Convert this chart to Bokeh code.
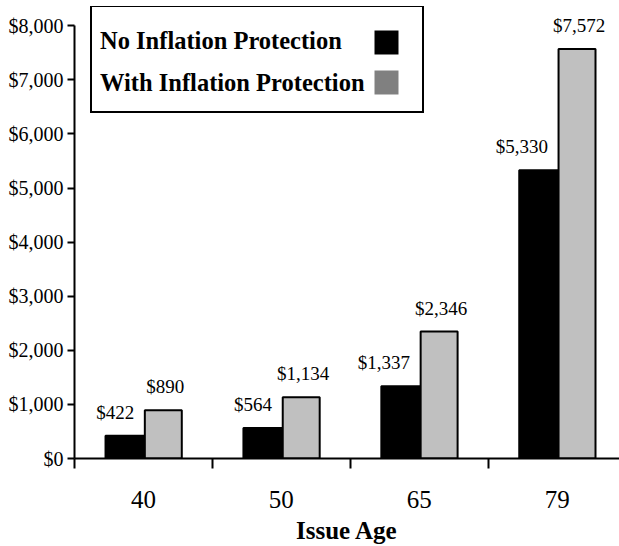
from bokeh.plotting import figure
from bokeh.models import (Range1d, FixedTicker, NumeralTickFormatter, LabelSet,
                          ColumnDataSource, Legend, LegendItem)
from bokeh.core.properties import value
from bokeh.embed import file_html
from bokeh.resources import INLINE

# ---- data ----
categories = ["40", "50", "65", "79"]
no_protection = [422, 564, 1337, 5330]
with_protection = [890, 1134, 2346, 7572]
series_names = ["No Inflation Protection", "With Inflation Protection"]
y_ticks = [0, 1000, 2000, 3000, 4000, 5000, 6000, 7000, 8000]

FONT = "Liberation Serif"
idx = list(range(len(categories)))
black_x = [i + 0.3675 for i in idx]
grey_x = [i + 0.644 for i in idx]

p = figure(width=619, height=546, output_backend="svg", toolbar_location=None,
           x_range=Range1d(0, 3.952), y_range=Range1d(0, 8356),
           min_border_left=74, min_border_right=0, min_border_top=6,
           min_border_bottom=88)
p.xgrid.visible = False
p.ygrid.visible = False
p.outline_line_color = None
p.background_fill_color = "white"
p.border_fill_color = "white"

# bars
p.vbar(x=black_x, top=no_protection, width=0.285, fill_color="black",
       line_color="black", line_width=2)
p.vbar(x=grey_x, top=with_protection, width=0.268, fill_color="#C0C0C0",
       line_color="black", line_width=2)

# value labels
src_b = ColumnDataSource(dict(x=black_x, y=no_protection,
                              t=[f"${v:,}" for v in no_protection]))
src_g = ColumnDataSource(dict(x=grey_x, y=with_protection,
                              t=[f"${v:,}" for v in with_protection]))
p.add_layout(LabelSet(x="x", y="y", text="t", source=src_b, text_align="right",
                      x_offset=9, y_offset=17, text_baseline="alphabetic",
                      text_font=value(FONT), text_font_size="19px", text_color="black"))
p.add_layout(LabelSet(x="x", y="y", text="t", source=src_g, text_align="center",
                      x_offset=2, y_offset=17, text_baseline="alphabetic",
                      text_font=value(FONT), text_font_size="19px", text_color="black"))

# x axis: labels at category centers, boundary ticks as minor ticks
xa = p.xaxis[0]
xa.ticker = FixedTicker(ticks=[i + 0.5 for i in idx], minor_ticks=list(idx))
xa.major_label_overrides = {i + 0.5: c for i, c in zip(idx, categories)}
xa.major_tick_out = 0
xa.major_tick_in = 0
xa.minor_tick_out = 10
xa.minor_tick_in = 0
xa.minor_tick_line_width = 2
xa.minor_tick_line_color = "black"
xa.axis_line_width = 2
xa.axis_line_color = "black"
xa.major_label_text_font = FONT
xa.major_label_text_font_size = "25px"
xa.major_label_text_color = "black"
xa.major_label_text_line_height = 1.0
xa.major_label_standoff = 22
xa.axis_label = "Issue Age"
xa.axis_label_text_font = FONT
xa.axis_label_text_font_style = "bold"
xa.axis_label_text_font_size = "25px"
xa.axis_label_text_color = "black"
xa.axis_label_text_line_height = 1.0
xa.axis_label_standoff = 6

# y axis (line stops at the top tick)
ya = p.yaxis[0]
ya.ticker = FixedTicker(ticks=y_ticks, minor_ticks=[])
ya.formatter = NumeralTickFormatter(format="$0,0")
ya.bounds = (y_ticks[0], y_ticks[-1])
ya.major_tick_out = 7
ya.major_tick_in = 0
ya.major_tick_line_width = 2
ya.major_tick_line_color = "black"
ya.minor_tick_out = 0
ya.minor_tick_in = 0
ya.axis_line_width = 2
ya.axis_line_color = "black"
ya.major_label_text_font = FONT
ya.major_label_text_font_size = "20px"
ya.major_label_text_color = "black"
ya.major_label_standoff = 4

# legend: framed text box + swatches on the right
# (zero-width bars: they draw nothing on the plot, only their legend swatch)
d_clear = p.vbar(x=black_x, top=no_protection, width=0, fill_alpha=0, line_alpha=0)
d_black = p.vbar(x=black_x, top=no_protection, width=0, fill_color="black", line_color=None)
d_grey = p.vbar(x=grey_x, top=with_protection, width=0, fill_color="#808080", line_color=None)

leg_a = Legend(items=[LegendItem(label=value(series_names[0]), renderers=[d_clear]),
                      LegendItem(label=value(series_names[1]), renderers=[d_clear])],
               location=(16, 345), margin=0, padding=7, spacing=0,
               title=" ", title_text_font_size="6px", title_standoff=0,
               label_height=42, glyph_height=20, glyph_width=1, label_standoff=0,
               label_width=315, border_line_width=2, border_line_color="black",
               border_line_alpha=1, background_fill_alpha=0,
               label_text_font=FONT, label_text_font_style="bold",
               label_text_font_size="24.5px", label_text_color="black")
leg_b = Legend(items=[LegendItem(label=value(" "), renderers=[d_black]),
                      LegendItem(label=value(" "), renderers=[d_grey])],
               location=(297, 361), margin=0, padding=0, spacing=10,
               label_height=30, glyph_height=30, glyph_width=30, label_standoff=0,
               label_width=0, border_line_alpha=0, background_fill_alpha=0,
               label_text_font_size="1px")
p.add_layout(leg_a)
p.add_layout(leg_b)

open("out.html", "w").write(file_html(p, INLINE))
